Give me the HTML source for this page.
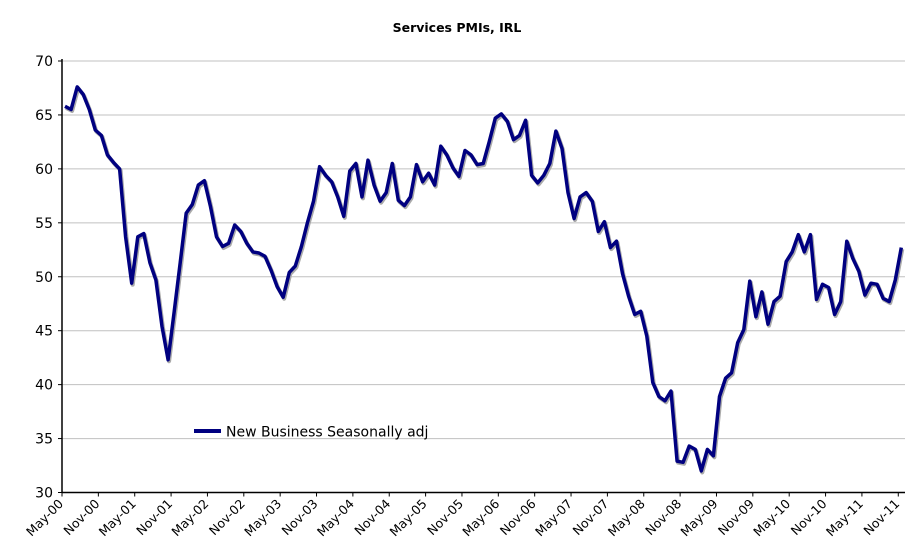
<!DOCTYPE html>
<html><head><meta charset="utf-8"><style>
body{margin:0;background:#fff;}
svg{display:block;font-family:"DejaVu Sans","Liberation Sans",sans-serif;}
</style></head><body>
<svg id="chart" width="915" height="559">
<text x="457" y="32" text-anchor="middle" font-weight="bold" font-size="12.5">Services PMIs, IRL</text>
<g id="grid"></g><g id="axes"></g><g id="series"></g>
<g>
<line x1="194" y1="431" x2="221" y2="431" stroke="#000080" stroke-width="4"/>
<text x="226" y="436.5" font-size="14">New Business Seasonally adj</text>
</g>
</svg>
<script>
const values=[65.8,65.5,67.6,66.9,65.5,63.6,63.1,61.3,60.6,60.0,53.7,49.4,53.7,54.0,51.3,49.7,45.4,42.3,46.7,51.3,55.9,56.7,58.5,58.9,56.5,53.7,52.8,53.1,54.8,54.2,53.1,52.3,52.2,51.9,50.6,49.1,48.1,50.4,51.0,52.8,55.0,57.0,60.2,59.4,58.8,57.4,55.6,59.8,60.5,57.4,60.8,58.5,57.0,57.8,60.5,57.1,56.6,57.4,60.4,58.8,59.6,58.5,62.1,61.3,60.1,59.3,61.7,61.3,60.4,60.5,62.5,64.7,65.1,64.4,62.7,63.1,64.5,59.4,58.7,59.4,60.5,63.5,61.9,57.8,55.4,57.4,57.8,57.0,54.2,55.1,52.7,53.3,50.3,48.2,46.5,46.8,44.5,40.2,38.9,38.5,39.4,32.9,32.8,34.3,34.0,32.0,34.0,33.4,38.9,40.6,41.1,43.9,45.1,49.6,46.3,48.6,45.6,47.7,48.2,51.4,52.3,53.9,52.3,53.9,47.9,49.3,49.0,46.5,47.7,53.3,51.7,50.5,48.3,49.4,49.3,48.0,47.7,49.7,52.7];
const yTicks=[30,35,40,45,50,55,60,65,70];
const xLabels=["May-00","Nov-00","May-01","Nov-01","May-02","Nov-02","May-03","Nov-03","May-04","Nov-04","May-05","Nov-05","May-06","Nov-06","May-07","Nov-07","May-08","Nov-08","May-09","Nov-09","May-10","Nov-10","May-11","Nov-11"];
const NS="http://www.w3.org/2000/svg";
const X0=62,X1=905,Y0=492.5,YT=61,STEP=6.06;
function y(v){return Y0-(v-30)*(Y0-YT)/40;}
function xt(m){return X0+m*STEP;}
function xp(i){return X0+(i+0.5)*STEP;}
function mk(t,a,p){const e=document.createElementNS(NS,t);for(const k in a)e.setAttribute(k,a[k]);p.appendChild(e);return e;}
const grid=document.getElementById('grid'),axes=document.getElementById('axes'),ser=document.getElementById('series');
yTicks.forEach(v=>{
 if(v>30){const g=mk('line',{x1:X0,x2:X1,y1:y(v),y2:y(v),stroke:'#c0c0c0','stroke-width':1},grid);
 
 }
 const tk=mk('line',{x1:X0-4,x2:X0,y1:y(v),y2:y(v),stroke:'#000'},axes);
 
 
 const t=mk('text',{x:X0-9,y:y(v)+5,'text-anchor':'end','font-size':14},axes);
 t.textContent=v;
 
 
});
const ya=mk('line',{x1:X0,x2:X0,y1:YT-2,y2:Y0,stroke:'#000','stroke-width':1.5},axes);


const xa=mk('line',{x1:X0,x2:X1,y1:Y0,y2:Y0,stroke:'#000','stroke-width':1.5},axes);


xLabels.forEach((l,k)=>{
 const xx=xt(k*6);
 const tk=mk('line',{x1:xx,x2:xx,y1:Y0,y2:Y0+4,stroke:'#000'},axes);
 
 
 const t=mk('text',{x:xx+2,y:Y0+12,'text-anchor':'end','font-size':12.5,transform:`rotate(-45 ${xx+2} ${Y0+12})`},axes);
 t.textContent=l;
 
 
});
const pts=values.map((v,i)=>xp(i).toFixed(1)+','+y(v).toFixed(1)).join(' ');
const sh=mk('polyline',{points:pts,fill:'none',stroke:'#aaa','stroke-width':4,transform:'translate(1,1.5)','stroke-linejoin':'round'},ser);


const ln=mk('polyline',{points:pts,fill:'none',stroke:'#000080','stroke-width':3.5,'stroke-linejoin':'round'},ser);


</script>
</body></html>
